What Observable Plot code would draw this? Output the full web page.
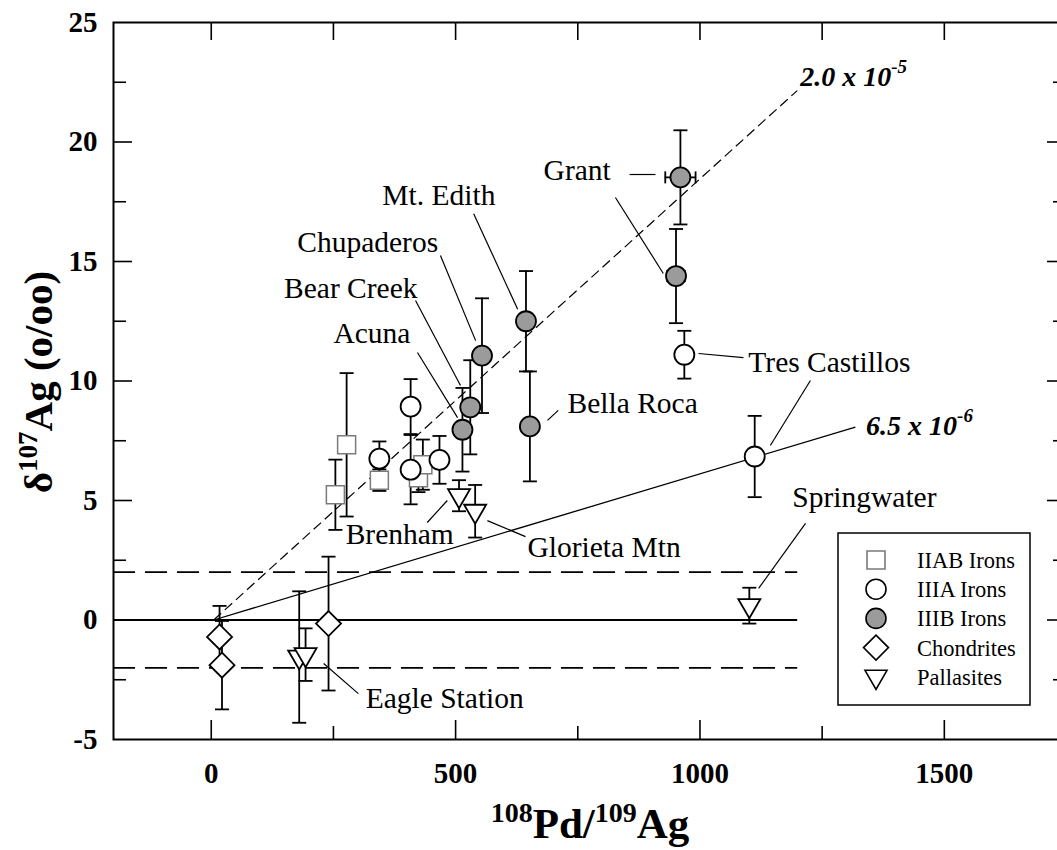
<!DOCTYPE html>
<html><head><meta charset="utf-8">
<script src="https://cdn.jsdelivr.net/npm/d3@7"></script>
<script src="https://cdn.jsdelivr.net/npm/@observablehq/plot@0.6"></script>
<style>
html,body{margin:0;padding:0;background:#fff;overflow:hidden;}
#chart{width:1057px;height:850px;overflow:hidden;position:relative;}
#chart svg{max-width:none !important;display:block;}
</style></head><body><div id="chart"></div>
<script>
// ---------- axis ticks ----------
const xMajor = [0, 500, 1000, 1500];
const xMinor = [250, 750, 1250];
const xTop = [0, 250, 500, 750, 1000, 1250, 1500];
const yMajor = [0, 5, 10, 15, 20];
const yMinor = [-2.5, 2.5, 7.5, 12.5, 17.5, 22.5];
const xTickLabels = [0, 500, 1000, 1500];
const yTickLabels = [-5, 0, 5, 10, 15, 20, 25];

// ---------- data ----------
const iiabX = [254, 277, 344, 424, 433];
const iiabY = [5.24, 7.33, 5.85, 5.95, 6.5];
const iiabErr = [1.47, 3.0, 0.45, 0.6, 1.05];

const iiiaX = [344, 408, 408, 467, 968, 1112];
const iiiaY = [6.75, 8.93, 6.29, 6.7, 11.1, 6.84];
const iiiaErr = [0.72, 1.15, 1.45, 1.0, 1.0, 1.7];

const iiibX = [514, 530, 554, 644, 652, 960, 951];
const iiibY = [7.96, 8.9, 11.06, 12.5, 8.1, 18.52, 14.39];
const iiibErr = [1.75, 1.97, 2.4, 2.1, 2.3, 1.97, 1.97];
const iiibXErr = [0, 0, 0, 0, 0, 31, 18];

const chonX = [17, 22, 240];
const chonY = [-0.71, -1.89, -0.15];
const chonErr = [1.3, 1.85, 2.8];

const pallX = [180, 193, 507, 540, 1101];
const pallY = [-1.55, -1.45, 5.2, 4.55, 0.6];
const pallErr = [2.75, 1.1, 0.65, 1.1, 0.75];

// reference lines
const refY = [0, 2, -2];
const refXEnd = 1200;
const fitLabel = ["2.0 x 10", "6.5 x 10"];
const fitExp = ["-5", "-6"];
const fitX1 = [5, 5];
const fitY1 = [0, 0];
const fitX2 = [1199, 1318];
const fitY2 = [22.15, 8.07];
const fitLabelX = [1206, 1341];
const fitLabelY = [22.32, 7.74];

// annotations
const labelText = ["Grant", "Mt. Edith", "Chupaderos", "Bear Creek", "Acuna", "Bella Roca",
  "Tres Castillos", "Springwater", "Brenham", "Glorieta Mtn", "Eagle Station"];
const labelX = [680, 350, 176, 149, 250, 729, 1099, 1189, 275, 647, 316];
const labelY = [18.39, 17.35, 15.38, 13.49, 11.57, 8.68, 10.36, 4.71, 3.2, 2.62, -3.7];

// leader lines
const leadX1 = [856, 827, 537, 469, 418, 422, 688, 997, 1226, 1216, 442, 565, 230];
const leadY1 = [18.64, 17.68, 17.0, 15.25, 13.37, 11.19, 8.35, 11.15, 10.02, 4.04, 4.08, 4.16, -1.82];
const leadX2 = [909, 925, 627, 541, 510, 504, 710, 1089, 1144, 1120, 483, 643, 301];
const leadY2 = [18.64, 14.5, 13.0, 11.69, 9.81, 8.47, 8.77, 10.98, 7.30, 1.32, 5.0, 3.49, -3.08];

const legendNames = ["IIAB Irons", "IIIA Irons", "IIIB Irons", "Chondrites", "Pallasites"];

// ---------- build tables ----------
const zip = (xs, ys, es, g, xes) => xs.map((x, i) => ({x, y: ys[i], e: es[i], xe: xes ? xes[i] : 0, g}));
const iiab = zip(iiabX, iiabY, iiabErr, "IIAB");
const iiia = zip(iiiaX, iiiaY, iiiaErr, "IIIA");
const iiib = zip(iiibX, iiibY, iiibErr, "IIIB", iiibXErr);
const chon = zip(chonX, chonY, chonErr, "Chon");
const pall = zip(pallX, pallY, pallErr, "Pall");
const all = [...iiab, ...iiia, ...iiib, ...chon, ...pall];
const xerrs = all.filter(d => d.xe > 0);
const caps = all.flatMap(d => [{x: d.x, y: d.y - d.e}, {x: d.x, y: d.y + d.e}]);
const xcaps = xerrs.flatMap(d => [{x: d.x - d.xe, y: d.y}, {x: d.x + d.xe, y: d.y}]);
const fits = fitLabel.map((t, i) => ({t, x1: fitX1[i], y1: fitY1[i], x2: fitX2[i], y2: fitY2[i]}));
const labels = labelText.map((t, i) => ({t, x: labelX[i], y: labelY[i]}));
const leaders = leadX1.map((x1, i) => ({x1, y1: leadY1[i], x2: leadX2[i], y2: leadY2[i]}));

// ---------- symbols ----------
const symSquare = {draw(c) { c.moveTo(-9, -9); c.lineTo(9, -9); c.lineTo(9, 9); c.lineTo(-9, 9); c.closePath(); }};
const symCircle = {draw(c) { c.moveTo(10, 0); c.arc(0, 0, 10, 0, 2 * Math.PI); c.closePath(); }};
const symDiamond = {draw(c) { c.moveTo(0, -12.5); c.lineTo(12.5, 0); c.lineTo(0, 12.5); c.lineTo(-12.5, 0); c.closePath(); }};
const symTri = {draw(c) { c.moveTo(-11, -6.5); c.lineTo(11, -6.5); c.lineTo(0, 12.5); c.closePath(); }};
const capH = {draw(c) { c.moveTo(-7, 0); c.lineTo(7, 0); }};
const capV = {draw(c) { c.moveTo(0, -6); c.lineTo(0, 6); }};

const FONT = "'Liberation Serif', 'Times New Roman', serif";
const W = 1070, H = 850, ML = 113, MT = 22, MB = 111, MR = 4;
const FW = W - ML - MR, FH = H - MT - MB;

const grayFill = "#9b9b9b", sqStroke = "#7a7a7a";

const plot = Plot.plot({
  width: W, height: H,
  marginLeft: ML, marginTop: MT, marginBottom: MB, marginRight: MR,
  x: {domain: [-200, 1750], axis: null},
  y: {domain: [-5, 25], axis: null},
  style: {fontFamily: FONT, background: "white", maxWidth: "none", overflow: "visible"},
  marks: [
    Plot.ruleY(refY.filter(v => v === 0), {y: d => d, x1: -200, x2: refXEnd, stroke: "black", strokeWidth: 2}),
    Plot.ruleY(refY.filter(v => v !== 0), {y: d => d, x1: -200, x2: refXEnd, stroke: "black", strokeWidth: 1.8, strokeDasharray: "22,10"}),
    Plot.link(fits.slice(0, 1), {x1: "x1", y1: "y1", x2: "x2", y2: "y2", stroke: "black", strokeWidth: 1.2, strokeDasharray: "10,5"}),
    Plot.link(fits.slice(1), {x1: "x1", y1: "y1", x2: "x2", y2: "y2", stroke: "black", strokeWidth: 1.3}),
    Plot.link(leaders, {x1: "x1", y1: "y1", x2: "x2", y2: "y2", stroke: "black", strokeWidth: 1.2}),
    Plot.ruleX(all, {x: "x", y1: d => d.y - d.e, y2: d => d.y + d.e, stroke: "black", strokeWidth: 1.8}),
    Plot.dot(caps, {x: "x", y: "y", symbol: capH, r: 7, stroke: "black", strokeWidth: 1.8, fill: "none"}),
    Plot.ruleY(xerrs, {y: "y", x1: d => d.x - d.xe, x2: d => d.x + d.xe, stroke: "black", strokeWidth: 1.8}),
    Plot.dot(xcaps, {x: "x", y: "y", symbol: capV, r: 6, stroke: "black", strokeWidth: 1.8, fill: "none"}),
    Plot.dot(iiab, {x: "x", y: "y", symbol: symSquare, r: 10, fill: "white", stroke: sqStroke, strokeWidth: 1.5}),
    Plot.dot(iiia, {x: "x", y: "y", symbol: symCircle, r: 10, fill: "white", stroke: "black", strokeWidth: 1.8}),
    Plot.dot(iiib, {x: "x", y: "y", symbol: symCircle, r: 10, fill: grayFill, stroke: "black", strokeWidth: 1.8}),
    Plot.dot(chon, {x: "x", y: "y", symbol: symDiamond, r: 12, fill: "white", stroke: "black", strokeWidth: 1.8}),
    Plot.dot(pall, {x: "x", y: "y", symbol: symTri, r: 11, fill: "white", stroke: "black", strokeWidth: 1.8}),
    Plot.text(labels, {x: "x", y: "y", text: "t", textAnchor: "start", lineAnchor: "bottom", fontSize: 29.5, fill: "black"}),
    Plot.frame({stroke: "black", strokeWidth: 2}),
    Plot.tickX(xMajor, {x: d => d, insetTop: FH - 19, stroke: "black", strokeWidth: 1.6}),
    Plot.tickX(xMinor, {x: d => d, insetTop: FH - 13, stroke: "black", strokeWidth: 1.6}),
    Plot.tickX(xTop, {x: d => d, insetBottom: FH - 18, stroke: "black", strokeWidth: 1.6}),
    Plot.tickY(yMajor, {y: d => d, insetRight: FW - 19, stroke: "black", strokeWidth: 1.6}),
    Plot.tickY(yMinor, {y: d => d, insetRight: FW - 13, stroke: "black", strokeWidth: 1.6}),
    Plot.tickY(yMajor, {y: d => d, insetLeft: FW - 19, stroke: "black", strokeWidth: 1.6}),
    Plot.tickY(yMinor, {y: d => d, insetLeft: FW - 13, stroke: "black", strokeWidth: 1.6}),
    Plot.text(xTickLabels, {x: d => d, y: -5, text: d => String(d), dy: 43, lineAnchor: "bottom", fontSize: 29, fontWeight: "bold", fill: "black"}),
    Plot.text(yTickLabels, {x: -200, y: d => d, text: d => String(d), dx: -16, textAnchor: "end", lineAnchor: "middle", fontSize: 29, fontWeight: "bold", fill: "black"})
  ]
});
document.getElementById("chart").appendChild(plot);

const svg = d3.select(plot);
const sx = plot.scale("x"), sy = plot.scale("y");

fitLabel.forEach((t, i) => {
  const tx = svg.append("text")
    .attr("x", sx.apply(fitLabelX[i])).attr("y", sy.apply(fitLabelY[i]))
    .attr("text-anchor", "start")
    .attr("font-family", FONT).attr("font-size", 28).attr("font-weight", "bold").attr("font-style", "italic")
    .attr("fill", "black");
  tx.append("tspan").text(t);
  tx.append("tspan").attr("font-size", 19).attr("dy", -13).text(fitExp[i]);
});

const xt = svg.append("text").attr("x", 590).attr("y", 838).attr("text-anchor", "middle")
  .attr("font-family", FONT).attr("font-size", 43).attr("font-weight", "bold").attr("fill", "black");
xt.append("tspan").attr("font-size", 28).attr("dy", -16).text("108");
xt.append("tspan").attr("dy", 16).text("Pd/");
xt.append("tspan").attr("font-size", 28).attr("dy", -16).text("109");
xt.append("tspan").attr("dy", 16).text("Ag");

const yt = svg.append("text").attr("transform", "translate(52,382) rotate(-90)").attr("text-anchor", "middle")
  .attr("font-family", FONT).attr("font-size", 41).attr("font-weight", "bold").attr("fill", "black");
yt.append("tspan").text("δ");
yt.append("tspan").attr("font-size", 27).attr("dy", -15).text("107");
yt.append("tspan").attr("dy", 15).text("Ag (o/oo)");

const lg = svg.append("g");
lg.append("rect").attr("x", 838).attr("y", 533).attr("width", 192).attr("height", 172)
  .attr("fill", "white").attr("stroke", "black").attr("stroke-width", 1.5);
const legSyms = [
  {s: symSquare, fill: "white", stroke: sqStroke},
  {s: symCircle, fill: "white", stroke: "black"},
  {s: symCircle, fill: grayFill, stroke: "black"},
  {s: symDiamond, fill: "white", stroke: "black"},
  {s: symTri, fill: "white", stroke: "black"}
];
legendNames.forEach((name, i) => {
  const cy = 560 + i * 29.2;
  const p = d3.path(); legSyms[i].s.draw(p, 100);
  lg.append("path").attr("d", p.toString()).attr("transform", `translate(876,${cy})`)
    .attr("fill", legSyms[i].fill).attr("stroke", legSyms[i].stroke).attr("stroke-width", 1.6);
  lg.append("text").attr("x", 917).attr("y", cy + 8).attr("text-anchor", "start")
    .attr("font-family", FONT).attr("font-size", 22.5)
    .attr("fill", "black").text(name);
});
</script></body></html>
